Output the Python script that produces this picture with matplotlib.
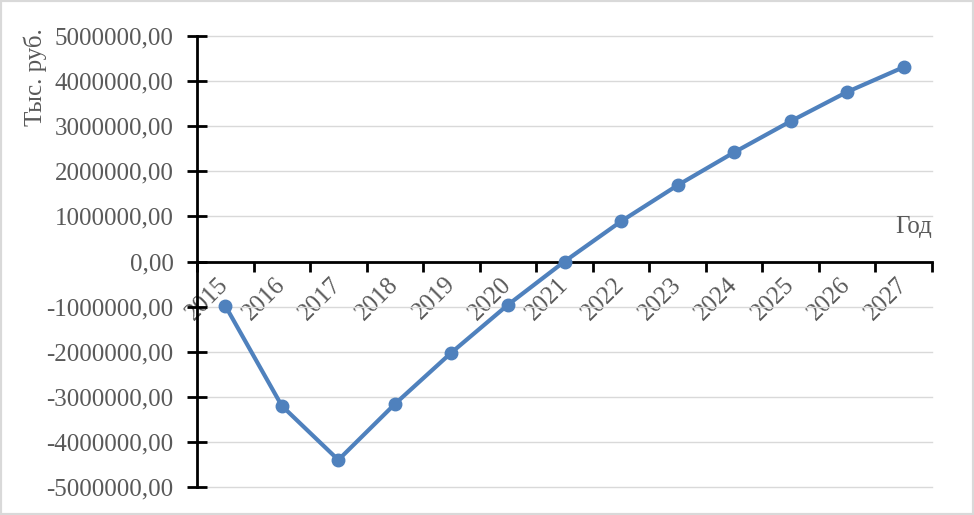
import numpy as np
import matplotlib.pyplot as plt
from matplotlib.patches import Rectangle

# data
years = ['2015', '2016', '2017', '2018', '2019', '2020', '2021',
         '2022', '2023', '2024', '2025', '2026', '2027']
values = [-980000, -3200000, -4400000, -3160000, -2020000, -960000, 0,
          890000, 1690000, 2420000, 3110000, 3760000, 4310000]
yticks = [-5000000, -4000000, -3000000, -2000000, -1000000, 0,
          1000000, 2000000, 3000000, 4000000, 5000000]

plt.rcParams['font.family'] = ['Liberation Serif', 'DejaVu Serif']
grey = '#595959'
fs = 18

fig = plt.figure(figsize=(9.74, 5.15), dpi=100)
ax = fig.add_axes([197 / 974, 1 - 487 / 515, (932 - 197) / 974, (487 - 36) / 515])

n = len(years)
x = np.arange(n) + 0.5
ax.plot(x, values, color='#4F81BD', lw=3, marker='o', ms=9, zorder=3)

ax.set_xlim(0, n)
ax.set_ylim(-5000000, 5000000)
ax.set_yticks(yticks)
ax.set_yticklabels([f'{v:.2f}'.replace('.', ',') for v in yticks],
                   fontsize=fs, color=grey)
ax.yaxis.grid(True, color='#D9D9D9', lw=1)
ax.set_axisbelow(True)
for gl in ax.get_ygridlines():
    gl.set_clip_on(False)

# x axis crosses at zero
ax.spines['bottom'].set_position(('data', 0))
ax.spines['top'].set_visible(False)
ax.spines['right'].set_visible(False)
for s in ['left', 'bottom']:
    ax.spines[s].set_linewidth(2)
    ax.spines[s].set_color('black')

ax.set_xticks(np.arange(n + 1))
ax.set_xticklabels([])
ax.set_xticks(x, minor=True)
ax.set_xticklabels(years, minor=True, fontsize=fs, color=grey, rotation=45,
                   ha='right', va='center', rotation_mode='anchor')
ax.tick_params(axis='x', which='major', direction='out', length=7, width=2)
ax.tick_params(axis='x', which='minor', length=0, pad=14)
ax.tick_params(axis='y', direction='inout', length=14, width=2, pad=10)

ax.text(n, 1000000, 'Год', fontsize=fs, color=grey, ha='right', va='top')

fig.text(35 / 974, 1 - 28 / 515, 'Тыс. руб.', rotation=90, fontsize=fs,
         color=grey, ha='center', va='top')

fig.patches.append(Rectangle((0, 0), 1, 1, transform=fig.transFigure,
                             fill=False, edgecolor='#D9D9D9', lw=3))

fig.savefig('out.png', dpi=100, facecolor='white')
